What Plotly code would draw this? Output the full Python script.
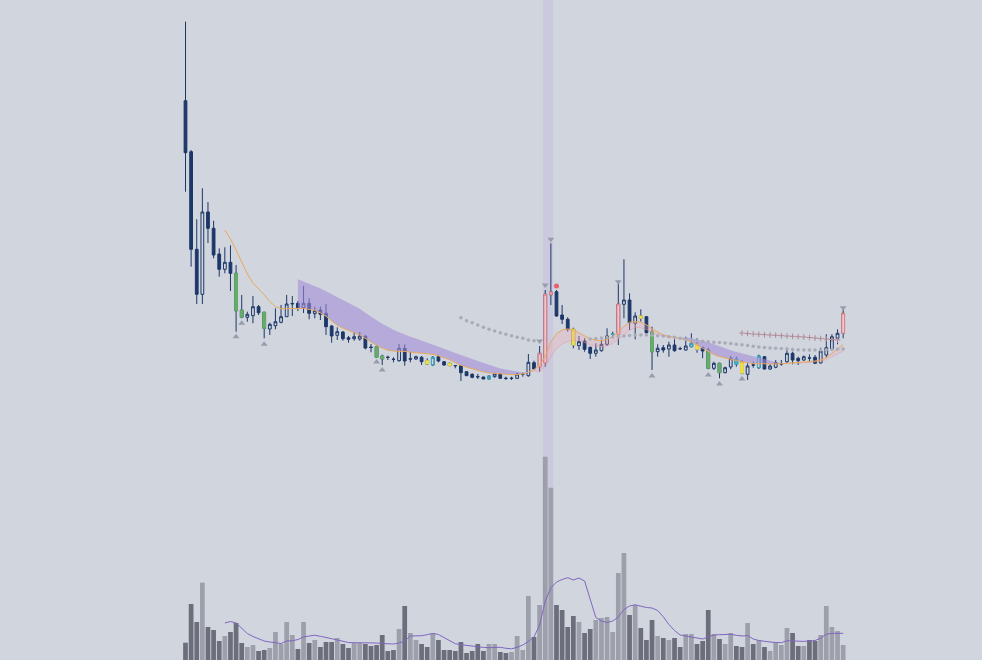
import plotly.graph_objects as go

idx = list(range(118))

opens = [31.93, 26.83, 17.07, 12.57, 20.8, 19.17, 16.6, 15.07, 15.77, 14.67,
         11.0, 10.27, 10.43, 11.33, 10.77, 9.1, 9.43, 9.77, 10.33, 11.6,
         11.67, 11.23, 11.67, 10.63, 11.0, 10.67, 9.4, 8.47, 8.8, 8.23,
         8.13, 8.1, 8.37, 7.3, 7.33, 6.4, 6.28, 6.08, 5.93, 7.17,
         6.08, 6.1, 6.27, 5.93, 5.5, 6.33, 5.83, 5.67, 5.44, 5.43,
         4.83, 4.57, 4.34, 4.3, 4.1, 4.33, 4.6, 4.18, 4.16, 4.17,
         4.56, 4.43, 5.73, 5.33, 5.73, 12.53, 12.83, 10.5, 10.07, 9.1,
         7.43, 7.9, 7.27, 6.67, 6.93, 7.57, 8.56, 8.57, 11.57, 12.0,
         9.67, 10.4, 10.33, 8.83, 6.83, 7.23, 7.1, 7.5, 7.14, 7.0,
         7.33, 7.6, 7.23, 7.0, 5.17, 5.67, 4.73, 5.3, 6.1, 5.73,
         4.57, 5.51, 5.23, 6.33, 5.1, 5.27, 5.6, 5.83, 6.67, 6.17,
         6.0, 6.21, 6.27, 5.7, 6.5, 7.1, 8.17, 8.67]
highs = [39.83, 27.0, 20.07, 23.17, 21.8, 19.93, 17.17, 17.27, 17.47, 15.5,
         12.5, 10.83, 12.4, 11.5, 10.83, 9.73, 11.17, 11.5, 12.5, 12.4,
         11.9, 13.4, 12.17, 11.33, 11.33, 11.6, 9.5, 9.27, 8.9, 8.4,
         8.8, 8.8, 8.5, 7.6, 7.45, 6.53, 6.43, 6.27, 7.6, 7.57,
         6.83, 6.43, 6.4, 6.17, 6.4, 6.5, 5.9, 5.75, 5.44, 5.5,
         4.85, 4.67, 4.6, 4.32, 4.45, 4.73, 4.67, 4.33, 4.33, 4.73,
         4.73, 6.6, 5.93, 7.4, 13.0, 17.67, 13.0, 11.5, 10.27, 9.23,
         8.4, 8.17, 7.33, 7.67, 8.0, 9.17, 8.83, 13.93, 16.07, 12.67,
         10.77, 11.07, 10.4, 9.33, 7.57, 7.5, 7.83, 8.07, 7.33, 8.33,
         8.67, 8.17, 7.33, 7.23, 5.83, 5.73, 5.33, 6.4, 6.33, 6.0,
         5.67, 5.83, 6.53, 6.4, 5.57, 6.0, 6.0, 7.23, 6.83, 6.33,
         6.45, 6.57, 6.5, 7.23, 8.57, 8.57, 9.07, 11.0]
lows = [22.83, 15.33, 11.6, 11.6, 17.7, 16.17, 14.33, 14.67, 12.9, 8.83,
        10.17, 9.83, 9.67, 10.5, 8.17, 8.5, 9.07, 9.67, 10.33, 10.4,
        10.9, 10.7, 10.07, 10.17, 10.0, 8.5, 7.73, 8.0, 7.93, 7.73,
        7.93, 7.93, 7.07, 6.77, 6.2, 5.5, 6.0, 5.77, 5.83, 5.43,
        5.77, 6.0, 5.5, 5.5, 5.43, 5.77, 5.43, 5.4, 5.17, 3.9,
        4.4, 4.17, 4.1, 4.08, 4.07, 4.23, 4.1, 4.0, 4.0, 4.1,
        4.33, 4.33, 5.0, 4.83, 5.33, 11.5, 10.33, 9.6, 8.83, 7.17,
        7.0, 6.83, 6.1, 6.33, 6.83, 7.4, 8.33, 7.5, 10.17, 9.0,
        8.07, 9.83, 8.6, 5.0, 6.33, 6.73, 6.33, 6.83, 7.0, 6.93,
        7.27, 6.73, 6.17, 5.07, 5.0, 4.17, 4.67, 5.07, 5.33, 4.57,
        4.0, 5.23, 5.1, 5.05, 5.0, 5.17, 5.43, 5.67, 5.57, 5.5,
        5.9, 5.83, 5.6, 5.67, 6.23, 6.93, 7.57, 8.17]
closes = [26.73, 17.07, 12.57, 20.8, 19.17, 16.5, 15.07, 15.77, 14.67, 10.93,
          10.27, 10.57, 11.33, 10.73, 9.17, 9.57, 9.83, 10.33, 11.6, 11.65,
          11.23, 11.67, 10.67, 10.93, 10.57, 9.33, 8.4, 8.83, 8.13, 8.07,
          8.33, 8.4, 7.2, 7.25, 6.27, 6.1, 6.26, 6.06, 7.17, 5.9,
          6.12, 6.33, 5.83, 5.6, 6.27, 5.9, 5.5, 5.43, 5.43, 4.73,
          4.43, 4.27, 4.32, 4.1, 4.4, 4.6, 4.17, 4.16, 4.18, 4.6,
          4.58, 5.77, 5.1, 6.67, 12.57, 12.8, 10.4, 10.07, 9.07, 7.5,
          7.83, 7.07, 6.67, 7.0, 7.57, 8.4, 8.58, 11.6, 12.0, 9.73,
          10.4, 10.17, 8.73, 6.83, 7.17, 7.0, 7.5, 6.93, 7.12, 7.4,
          7.67, 7.07, 6.9, 5.17, 5.67, 4.73, 5.23, 6.17, 5.57, 4.67,
          5.4, 5.49, 6.4, 5.1, 5.4, 5.73, 5.62, 6.67, 6.0, 5.93,
          6.33, 6.19, 5.67, 6.9, 7.23, 8.33, 8.67, 10.67]
volume = [173, 560, 380, 773, 330, 300, 190, 240, 280, 370,
          170, 130, 150, 90, 100, 120, 280, 160, 380, 250,
          110, 380, 170, 200, 130, 180, 180, 220, 160, 120,
          170, 170, 160, 140, 150, 250, 90, 100, 310, 540,
          270, 200, 160, 130, 270, 200, 100, 100, 90, 180,
          70, 90, 160, 90, 160, 160, 80, 70, 80, 240,
          100, 640, 230, 550, 2033, 1723, 550, 500, 330, 440,
          380, 270, 310, 400, 420, 430, 280, 870, 1070, 450,
          550, 320, 200, 400, 240, 220, 200, 220, 130, 260,
          260, 160, 190, 500, 260, 210, 160, 270, 140, 130,
          370, 160, 200, 130, 90, 180, 150, 320, 270, 140,
          140, 200, 190, 250, 540, 330, 290, 150]

ma_fast = [None] * 7 + [
    19.0, 18.1, 17.0, 15.8, 14.6, 13.7, 13.13, 12.53, 11.85, 11.35,
    11.12, 11.13, 11.15, 11.17, 11.16, 11.06, 10.96, 10.71, 10.37, 9.92,
    9.47, 9.19, 8.93, 8.72, 8.51, 8.14, 7.77, 7.46, 7.19, 6.98,
    6.9, 6.9, 6.85, 6.79, 6.74, 6.68, 6.63, 6.57, 6.42, 6.23,
    6.02, 5.74, 5.47, 5.29, 5.11, 4.95, 4.81, 4.71, 4.65, 4.6,
    4.57, 4.54, 4.55, 4.6, 4.77, 5.06, 5.5, 6.36, 7.8, 8.62,
    9.0, 9.11, 9.0, 8.72, 8.36, 8.12, 7.98, 7.94, 8.05, 8.35,
    8.8, 9.35, 9.78, 9.83, 9.8, 9.52, 9.1, 8.78, 8.5, 8.37,
    8.25, 8.14, 8.03, 7.8, 7.49, 7.17, 6.79, 6.54, 6.35, 6.2,
    6.06, 5.94, 5.83, 5.72, 5.65, 5.63, 5.6, 5.57, 5.6, 5.63,
    5.66, 5.69, 5.73, 5.78, 5.84, 5.9, 6.0, 6.25, 6.65, 7.1, 7.55]
ma_slow = [None] * 20 + [
    14.07, 13.85, 13.63, 13.41, 13.15, 12.87, 12.59, 12.31, 12.02, 11.73,
    11.46, 11.12, 10.73, 10.33, 9.97, 9.63, 9.3, 9.02, 8.77, 8.51,
    8.32, 8.14, 7.95, 7.76, 7.57, 7.38, 7.16, 6.93, 6.7, 6.47,
    6.28, 6.09, 5.91, 5.71, 5.52, 5.34, 5.16, 5.04, 4.93, 4.83,
    4.75, 4.8, 4.9, 4.8, 5.4, 6.3, 7.15, 7.6, 7.85, 7.97,
    7.95, 7.75, 7.5, 7.4, 7.33, 7.43, 7.65, 8.05, 8.5, 8.95,
    9.25, 9.23, 9.05, 8.75, 8.55, 8.4, 8.3, 8.23, 8.2, 8.27,
    8.17, 8.05, 7.92, 7.78, 7.57, 7.35, 7.17, 6.98, 6.8, 6.66,
    6.55, 6.43, 6.3, 6.12, 5.95, 5.8, 5.65, 5.64, 5.66, 5.69,
    5.72, 5.76, 5.8, 5.85, 6.05, 6.3, 6.6, 6.9]
vol_ma = [None] * 7 + [
    370, 385, 370, 317, 265, 235, 210, 190, 180, 170,
    165, 190, 192, 205, 230, 240, 248, 237, 228, 213,
    200, 187, 175, 173, 173, 173, 173, 170, 165, 160,
    160, 170, 190, 240, 240, 243, 253, 265, 255, 225,
    190, 163, 153, 145, 138, 132, 126, 123, 125, 127,
    117, 112, 127, 150, 185, 230, 350, 590, 720, 780,
    805, 823, 800, 820, 790, 600, 425, 390, 375, 390,
    430, 505, 540, 552, 535, 525, 520, 495, 433, 355,
    295, 250, 240, 230, 220, 210, 230, 250, 253, 255,
    257, 247, 240, 245, 210, 195, 185, 180, 175, 173,
    193, 190, 184, 186, 190, 195, 218, 258, 266, 267, 267]

sar_idx = list(range(49, 63)) + list(range(72, 118))
sar_val = [10.23, 9.93, 9.73, 9.5, 9.27, 9.07, 8.9, 8.73, 8.57, 8.42, 8.27, 8.17, 8.0, 7.93,
           8.1, 8.15, 8.2, 8.25, 8.3, 8.35, 8.4, 8.45, 8.5, 8.5,
           8.5, 8.47, 8.43, 8.4, 8.33, 8.27, 8.17, 8.07, 8.0, 7.93,
           7.87, 7.82, 7.77, 7.74, 7.7, 7.65, 7.58, 7.52, 7.45, 7.38,
           7.3, 7.24, 7.2, 7.17, 7.14, 7.1, 7.06, 7.02, 7.0, 7.0,
           7.0, 7.0, 7.02, 7.04, 7.07, 7.1]
stop_idx = list(range(99, 117))
stop_val = [8.7, 8.65, 8.6, 8.57, 8.53, 8.5, 8.47, 8.43, 8.4, 8.37,
            8.33, 8.3, 8.25, 8.2, 8.15, 8.1, 8.05, 8.0]

green_idx = [9, 10, 14, 34, 35, 83, 93, 95]
yellow_idx = [43, 47, 69, 81, 91, 99]
cyan_idx = [44, 54, 76, 90, 98, 102]
pink_idx = [63, 64, 65, 77, 117]

buy_idx = [9, 10, 14, 34, 35, 83, 93, 95, 99]
buy_val = [8.33, 9.67, 7.57, 5.8, 5.0, 4.4, 4.5, 3.6, 4.1]
sell_idx = [63, 64, 65, 77, 117]
sell_val = [7.9, 13.5, 18.07, 13.83, 11.23]
alert_idx = [66]
alert_val = [13.4]

highlight = [64, 65]

cloud_segments = [(20, 61, 'rgba(160,140,215,0.58)', False),
                  (61, 88, 'rgba(240,170,180,0.3)', True),
                  (88, 106, 'rgba(160,140,215,0.58)', False),
                  (106, 117, 'rgba(240,170,180,0.25)', True)]

BG = '#d1d5de'
NAVY = '#1c3768'

fig = go.Figure()

# volume
vol_colors = ['#9d9fab' if closes[i] >= opens[i] else '#6c6e7b' for i in idx]
fig.add_trace(go.Bar(x=idx, y=volume, marker=dict(color=vol_colors, line=dict(width=0)),
                     width=0.84, yaxis='y2', hoverinfo='skip', showlegend=False))
fig.add_trace(go.Scatter(x=idx, y=vol_ma, mode='lines', line=dict(color='#8066c0', width=1),
                         yaxis='y2', hoverinfo='skip', showlegend=False))

# cloud
for a, b, col, edge in cloud_segments:
    xs = idx[a:b + 1]
    fig.add_trace(go.Scatter(x=xs, y=ma_fast[a:b + 1], mode='lines', line=dict(width=0),
                             hoverinfo='skip', showlegend=False))
    fig.add_trace(go.Scatter(x=xs, y=ma_slow[a:b + 1], mode='lines', fill='tonexty',
                             fillcolor=col,
                             line=dict(width=0.8 if edge else 0,
                                       color='rgba(230,150,165,0.6)' if edge else 'rgba(0,0,0,0)'),
                             hoverinfo='skip', showlegend=False))

fig.add_trace(go.Scatter(x=idx, y=ma_fast, mode='lines', line=dict(color='#e8a95c', width=1),
                         hoverinfo='skip', showlegend=False))

fig.add_trace(go.Scatter(x=sar_idx, y=sar_val, mode='markers',
                         marker=dict(symbol='circle', size=3.5, color='#a9abb8'),
                         hoverinfo='skip', showlegend=False))
fig.add_trace(go.Scatter(x=stop_idx, y=stop_val, mode='markers',
                         marker=dict(symbol='cross-thin', size=4, line=dict(color='#b08898', width=1)),
                         hoverinfo='skip', showlegend=False))

# candles
fig.add_trace(go.Candlestick(
    x=idx, open=opens, high=highs, low=lows, close=closes,
    increasing=dict(line=dict(color=NAVY, width=1), fillcolor='rgba(0,0,0,0)'),
    decreasing=dict(line=dict(color=NAVY, width=1), fillcolor=NAVY),
    hoverinfo='skip', showlegend=False, whiskerwidth=0))


def bodies(ids, line_col, inc_fill, dec_fill):
    o = [opens[i] for i in ids]
    c = [closes[i] for i in ids]
    return go.Candlestick(
        x=ids, open=o, close=c,
        high=[max(p, q) for p, q in zip(o, c)], low=[min(p, q) for p, q in zip(o, c)],
        increasing=dict(line=dict(color=line_col, width=1), fillcolor=inc_fill),
        decreasing=dict(line=dict(color=line_col, width=1), fillcolor=dec_fill),
        hoverinfo='skip', showlegend=False, whiskerwidth=0)


fig.add_trace(bodies(green_idx, '#66ad6a', '#66ad6a', '#66ad6a'))
fig.add_trace(bodies(yellow_idx, '#f0df45', '#f0df45', '#f0df45'))
fig.add_trace(bodies(cyan_idx, '#39b3c9', 'rgba(0,0,0,0)', '#39b3c9'))
fig.add_trace(bodies(pink_idx, '#e4828a', '#efc6cb', '#e4828a'))

# signals
fig.add_trace(go.Scatter(x=buy_idx, y=buy_val, mode='markers',
                         marker=dict(symbol='triangle-up', size=6, color='#9a9cab'),
                         hoverinfo='skip', showlegend=False))
fig.add_trace(go.Scatter(x=sell_idx, y=sell_val, mode='markers',
                         marker=dict(symbol='triangle-down', size=6, color='#9a9cab'),
                         hoverinfo='skip', showlegend=False))
fig.add_trace(go.Scatter(x=alert_idx, y=alert_val, mode='markers',
                         marker=dict(symbol='circle', size=5, color='#e8606a'),
                         hoverinfo='skip', showlegend=False))

fig.add_shape(type='rect', xref='x', yref='paper', x0=highlight[0] - 0.4, x1=highlight[1] + 0.4,
              y0=0, y1=1, fillcolor='rgba(190,180,220,0.35)', line=dict(width=0), layer='below')

fig.update_layout(
    width=982, height=660,
    margin=dict(l=0, r=0, t=0, b=0),
    paper_bgcolor=BG, plot_bgcolor=BG,
    showlegend=False,
    xaxis=dict(range=[-33.0, 141.7], visible=False, rangeslider=dict(visible=False),
               showgrid=False, zeroline=False),
    yaxis=dict(range=[-24, 42], visible=False, showgrid=False, zeroline=False),
    yaxis2=dict(range=[0, 6600], overlaying='y', visible=False, showgrid=False, zeroline=False),
)

fig.write_html("out.html", config={'displayModeBar': False},
               post_script="document.body.style.margin='0';document.body.style.overflow='hidden';")
